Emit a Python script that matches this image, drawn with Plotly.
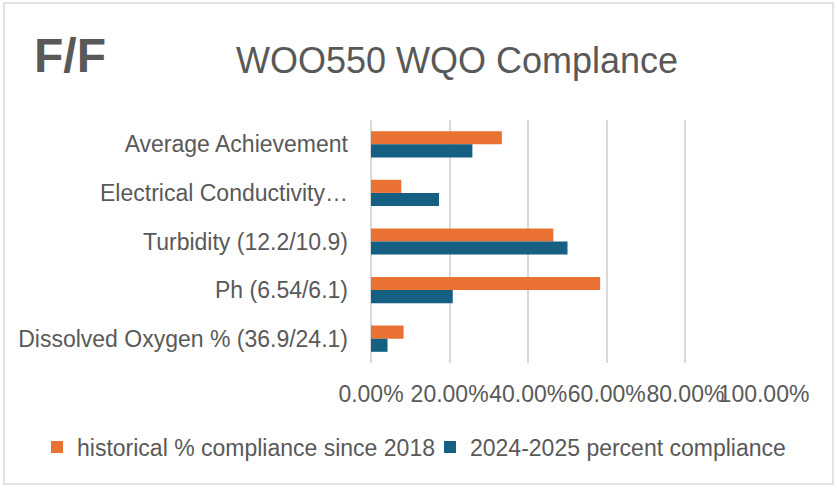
import plotly.graph_objects as go

categories = [
    "Average Achievement",
    "Electrical Conductivity…",
    "Turbidity (12.2/10.9)",
    "Ph (6.54/6.1)",
    "Dissolved Oxygen % (36.9/24.1)",
]
historical = [0.333, 0.077, 0.464, 0.583, 0.083]
current = [0.258, 0.173, 0.50, 0.208, 0.042]
tick_vals = [0, 0.2, 0.4, 0.6, 0.8, 1.0]
tick_text = ["0.00%", "20.00%", "40.00%", "60.00%", "80.00%", "100.00%"]
series_names = ["historical % compliance since 2018", "2024-2025 percent compliance"]

W, H = 837, 488
L, R, T, B = 371, 73, 120, 125
PW, PH = W - L - R, H - T - B

def px_x(px):
    return (px - L) / PW

def px_y(py):
    return (H - B - py) / PH

FONT = "Liberation Sans, Arial, sans-serif"
GRAY = "#595959"

fig = go.Figure()
fig.add_trace(go.Bar(y=categories, x=historical, orientation="h", name=series_names[0],
                     marker=dict(color="#E97132", line=dict(width=0)), legend="legend"))
fig.add_trace(go.Bar(y=categories, x=current, orientation="h", name=series_names[1],
                     marker=dict(color="#156082", line=dict(width=0)), legend="legend2"))

legend_common = dict(orientation="v", xref="container", yref="container", xanchor="left",
                     y=(H - 447) / H, yanchor="middle", font=dict(size=23, color=GRAY),
                     itemwidth=30, bgcolor="rgba(0,0,0,0)", borderwidth=0)

fig.update_layout(
    width=W, height=H,
    margin=dict(l=L, r=R, t=T, b=B, autoexpand=False),
    paper_bgcolor="white", plot_bgcolor="white",
    barmode="group", bargap=0.46, bargroupgap=0,
    font=dict(family=FONT, color=GRAY, size=23),
    title=dict(text="WOO550 WQO Complance", x=457 / W, xanchor="center", xref="container",
               y=1 - 60 / H, yanchor="middle", yref="container",
               font=dict(size=36, color=GRAY, family=FONT)),
    legend=dict(x=37 / W, **legend_common),
    legend2=dict(x=430 / W, **legend_common),
    showlegend=True,
)
fig.update_xaxes(range=[0, 1.0], tickvals=tick_vals, ticktext=tick_text, tickangle=0,
                 showgrid=True, gridcolor="#d9d9d9", gridwidth=2,
                 zeroline=True, zerolinecolor="#d9d9d9", zerolinewidth=2,
                 showline=False, ticks="", ticklabelstandoff=15,
                 tickfont=dict(size=23, color=GRAY))
fig.update_yaxes(autorange="reversed", showgrid=False, showline=False, ticks="",
                 ticklabelstandoff=22, tickfont=dict(size=23, color=GRAY))

fig.add_annotation(text="<b>F/F</b>", x=px_x(70), y=px_y(55), xref="paper", yref="paper",
                   showarrow=False, xanchor="center", yanchor="middle",
                   font=dict(size=48, color=GRAY, family=FONT))
fig.add_shape(type="rect", xref="paper", yref="paper",
              x0=px_x(4), x1=px_x(833), y0=px_y(484), y1=px_y(3),
              line=dict(color="#d9d9d9", width=1.5), fillcolor="rgba(0,0,0,0)", layer="below")

fig.write_html("out.html", config={"displayModeBar": False},
               post_script="document.body.style.margin='0';")
